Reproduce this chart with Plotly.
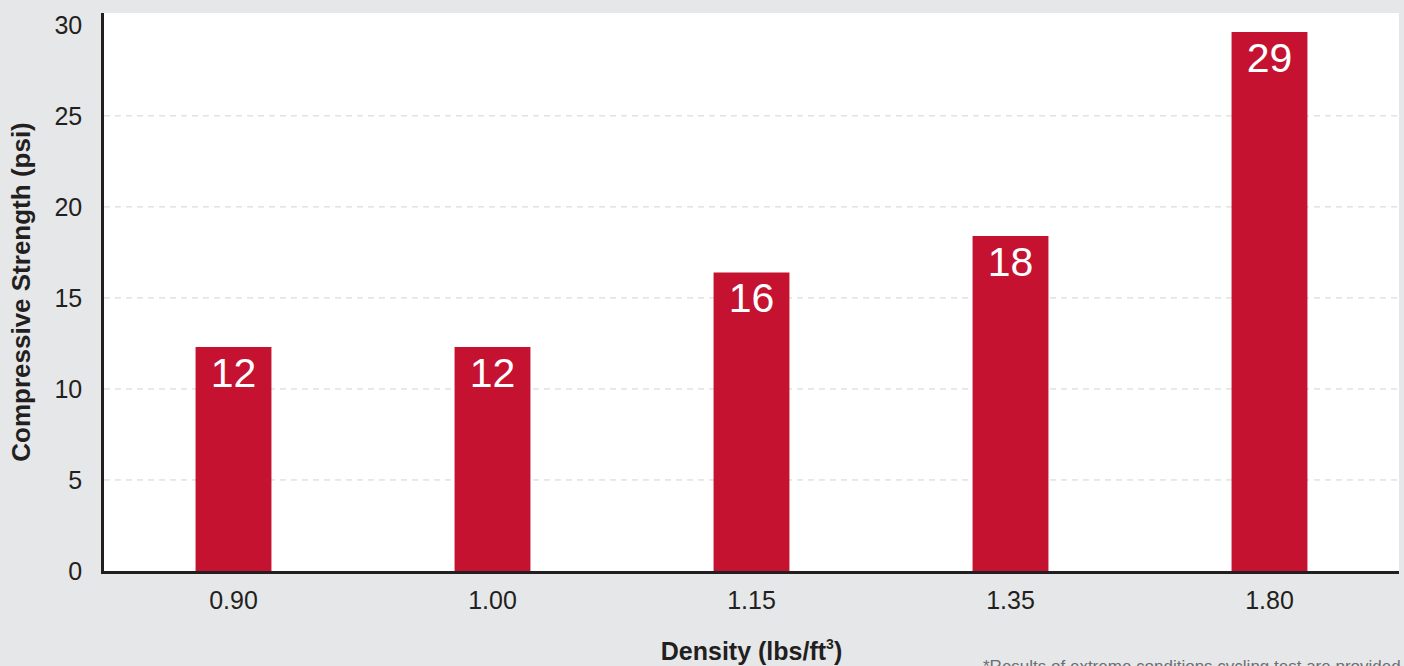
import plotly.graph_objects as go

categories = ["0.90", "1.00", "1.15", "1.35", "1.80"]
values = [12.3, 12.3, 16.4, 18.4, 29.6]
labels = ["12", "12", "16", "18", "29"]
y_ticks = [0, 5, 10, 15, 20, 25, 30]
grid_ticks = [5, 10, 15, 20, 25]

FONT = "Liberation Sans, Arial, Helvetica, sans-serif"

fig = go.Figure(go.Bar(
    x=categories,
    y=values,
    text=labels,
    textposition="inside",
    insidetextanchor="end",
    textangle=0,
    textfont=dict(family=FONT, size=41, color="white"),
    marker=dict(color="#c41230", line=dict(width=0)),
    hoverinfo="skip",
))

for g in grid_ticks:
    fig.add_shape(type="line", xref="paper", yref="y", x0=0, x1=1, y0=g, y1=g,
                  layer="below", line=dict(color="#d2d2d2", width=1, dash="6px,5px"))

fig.update_layout(
    width=1404, height=666,
    margin=dict(l=104, r=5, t=13, b=93),
    paper_bgcolor="#e6e7e9",
    plot_bgcolor="white",
    bargap=0.707,
    showlegend=False,
    font=dict(family=FONT, color="#231f20"),
    uniformtext=dict(minsize=41, mode="show"),
)

fig.update_xaxes(
    type="category",
    showline=True, linecolor="#231f20", linewidth=2.5,
    showgrid=False, ticks="", ticklen=0, ticklabelstandoff=5,
    tickfont=dict(size=25, color="#231f20"),
    title=dict(text="<b>Density (lbs/ft<sup><span style='font-size:14px'>3</span></sup>)</b>",
               font=dict(size=25, color="#231f20"), standoff=30),
)

fig.update_yaxes(
    range=[0, 30.65],
    tickvals=y_ticks,
    showline=True, linecolor="#231f20", linewidth=2.5,
    showgrid=False,
    zeroline=False, ticks="", ticklabelstandoff=14,
    tickfont=dict(size=25, color="#231f20"),
    title=dict(text="<b>Compressive Strength (psi)</b>",
               font=dict(size=26, color="#231f20"), standoff=17),
)

fig.add_annotation(
    text="*Results of extreme conditions cycling test are provided",
    xref="paper", yref="paper", x=1, y=0, xanchor="right", yanchor="top",
    xshift=4, yshift=-84, showarrow=False,
    font=dict(family=FONT, size=17, color="#6d6e71"),
)

fig.write_html("out.html", config={"displayModeBar": False},
               post_script="document.body.style.margin='0';")
